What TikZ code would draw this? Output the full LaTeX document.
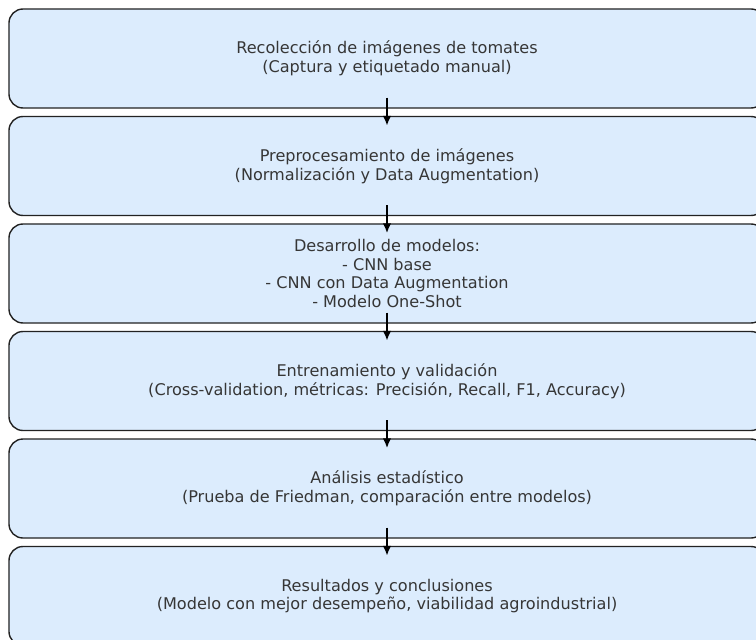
\documentclass[tikz,border=0pt]{standalone}
\usepackage{fontspec}
\setmainfont{DejaVu Sans}
\usetikzlibrary{arrows.meta}
\definecolor{boxfill}{HTML}{DCECFD}
\definecolor{boxline}{HTML}{222222}
\definecolor{txt}{HTML}{363636}
\tikzset{
  stage/.style={draw=boxline, fill=boxfill, line width=1.4bp, rounded corners=14bp,
    minimum width=756bp, minimum height=99bp, inner sep=0pt, align=center,
    text=txt, font=\fontsize{16.1bp}{18.8bp}\selectfont},
  flow/.style={line width=2bp, black, -{Latex[length=10bp,width=8.5bp]}}
}
\begin{document}
\begin{tikzpicture}[x=1bp,y=-1bp]
\useasboundingbox (0,0) rectangle (756,640);
\clip (0,0) rectangle (756,640);
\node[stage] (s1) at (387,58.5) {Recolección de imágenes de tomates\\(Captura y etiquetado manual)};
\node[stage] (s2) at (387,166) {Preprocesamiento de imágenes\\(Normalización y Data Augmentation)};
\node[stage] (s3) at (387,273.5) {Desarrollo de modelos:\\- CNN base\\- CNN con Data Augmentation\\- Modelo One-Shot};
\node[stage] (s4) at (387,381) {Entrenamiento y validación\\(Cross-validation, métricas: Precisión, Recall, F1, Accuracy)};
\node[stage] (s5) at (387,488.5) {Análisis estadístico\\(Prueba de Friedman, comparación entre modelos)};
\node[stage] (s6) at (387,596) {Resultados y conclusiones\\(Modelo con mejor desempeño, viabilidad agroindustrial)};
\foreach \a/\b in {s1/s2,s2/s3,s3/s4,s4/s5,s5/s6}
  \draw[flow] ([yshift=11bp]\a.south) -- ([yshift=-10bp]\b.north);
\end{tikzpicture}
\end{document}
